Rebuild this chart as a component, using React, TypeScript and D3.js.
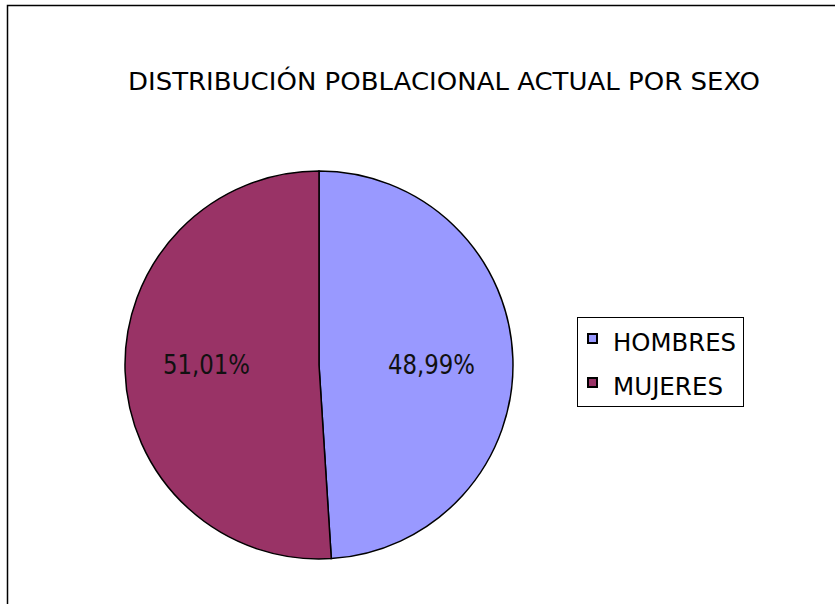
import React, { useEffect, useRef } from 'react';
import * as d3 from 'd3';

const categories = ['HOMBRES', 'MUJERES'];
const values = [48.99, 51.01];
const labels = ['48,99%', '51,01%'];
const colors = ['#9999FF', '#993366'];
const title = 'DISTRIBUCIÓN POBLACIONAL ACTUAL POR SEXO';

const W = 835, H = 604;
const FONT = '"DejaVu Sans", sans-serif';

export default function App() {
  const ref = useRef<SVGSVGElement>(null);

  useEffect(() => {
    const svg = d3.select(ref.current);
    svg.selectAll('*').remove();

    // outer chart frame (runs past right and bottom edge)
    svg.append('rect')
      .attr('x', 7.5).attr('y', 5.5)
      .attr('width', 840).attr('height', 620)
      .attr('fill', '#fff').attr('stroke', '#000').attr('stroke-width', 1.5);

    svg.append('text')
      .attr('x', 444).attr('y', 90)
      .attr('text-anchor', 'middle')
      .attr('font-family', FONT).attr('font-size', 25)
      .attr('textLength', 632).attr('lengthAdjust', 'spacingAndGlyphs')
      .text(title);

    const cx = 319, cy = 365, r = 194;
    const pie = d3.pie<number>().sort(null).value(d => d);
    const arcs = pie(values);
    const arc = d3.arc<d3.PieArcDatum<number>>().innerRadius(0).outerRadius(r);
    const labelArc = d3.arc<d3.PieArcDatum<number>>().innerRadius(r * 0.58).outerRadius(r * 0.58);

    const g = svg.append('g').attr('transform', `translate(${cx},${cy})`);
    g.selectAll('path').data(arcs).enter().append('path')
      .attr('d', arc)
      .attr('fill', (d, i) => colors[i])
      .attr('stroke', '#000').attr('stroke-width', 1.5);

    // labels: horizontal position from the slice centroid, kept on one line
    g.selectAll('text.lbl').data(arcs).enter().append('text')
      .attr('class', 'lbl')
      .attr('x', d => labelArc.centroid(d)[0])
      .attr('y', 9)
      .attr('text-anchor', 'middle')
      .attr('font-family', FONT).attr('font-size', 26)
      .attr('textLength', 87).attr('lengthAdjust', 'spacingAndGlyphs')
      .attr('fill', '#111')
      .text((d, i) => labels[i]);

    // legend
    const lg = svg.append('g').attr('transform', 'translate(577,317)');
    lg.append('rect').attr('x', 0.5).attr('y', 0.5).attr('width', 166).attr('height', 89)
      .attr('fill', '#fff').attr('stroke', '#000').attr('stroke-width', 1);
    const item = lg.selectAll('g.item').data(categories).enter().append('g')
      .attr('class', 'item')
      .attr('transform', (d, i) => `translate(0,${i * 44})`);
    item.append('rect').attr('x', 11).attr('y', 17).attr('width', 9).attr('height', 9)
      .attr('fill', (d, i) => colors[i]).attr('stroke', '#000').attr('stroke-width', 2);
    item.append('text').attr('x', 36).attr('y', 34)
      .attr('font-family', FONT).attr('font-size', 24)
      .attr('textLength', (d, i) => (i === 0 ? 123 : 110))
      .attr('lengthAdjust', 'spacingAndGlyphs')
      .text(d => d);
  }, []);

  return (
    <svg ref={ref} width={W} height={H}
      style={{ position: 'absolute', left: 0, top: 0, background: '#fff' }} />
  );
}
